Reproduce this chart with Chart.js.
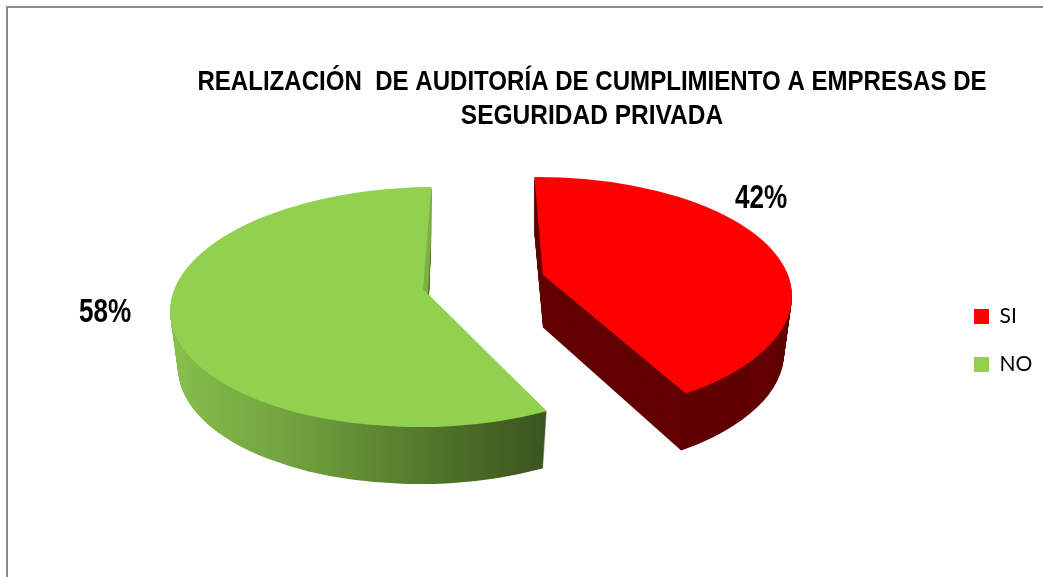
<!DOCTYPE html>
<html>
<head>
<meta charset="utf-8">
<style>html,body{margin:0;padding:0;background:#fff}#w{width:1043px;height:577px;position:relative}</style>
<script src="https://cdn.jsdelivr.net/npm/chart.js@4/dist/chart.umd.min.js"></script>
</head>
<body>
<div id="w"><canvas id="c" width="1043" height="577"></canvas></div>
<script>
const categories = ['SI', 'NO'];
const seriesValues = [42, 58];
const titleLines = ['REALIZACIÓN  DE AUDITORÍA DE CUMPLIMIENTO A EMPRESAS DE', 'SEGURIDAD PRIVADA'];
const sliceColors = ['#ff0000', '#92d050'];

const sliceLooks = [
  {cx: 535, cy: 297, rx: 257, ry: 120, tilt: -0.005, startShift: 0, endShift: -7, apexX: 543, apexY: 275, depth: 57, labelX: 761, labelY: 199},
  {cx: 427, cy: 307, rx: 257, ry: 120, tilt: -0.02, startShift: 1.5, endShift: 1.5, apexX: 427, apexY: 293, depth: 57, labelX: 105, labelY: 313}
];
const titleSquash = 0.875;
const labelSquash = 0.79;
const depthShrink = 8;
const rad = deg => deg * Math.PI / 180;

const pie3d = {
  id: 'pie3d',
  afterLayout(chart) {
    const lg = chart.legend, p = lg.options.labels.padding;
    lg.left = 974 - p; lg.right = 1043; lg.top = 306 - p; lg.bottom = 577;
    const t = chart.titleBlock;
    if (!t._wrapped) {
      const original = t.draw;
      t._wrapped = true;
      t.draw = function () {
        const ctx = chart.ctx, mid = (t.left + t.right) / 2;
        ctx.save();
        ctx.translate(mid, 0);
        ctx.scale(titleSquash, 1);
        ctx.translate(-mid, 0);
        original.call(t);
        ctx.restore();
      };
    }
  },
  beforeDraw(chart) {
    const ctx = chart.ctx;
    ctx.save();
    ctx.fillStyle = '#fff';
    ctx.fillRect(0, 0, chart.width, chart.height);
    ctx.strokeStyle = '#8c8c8c';
    ctx.lineWidth = 2;
    ctx.beginPath();
    ctx.moveTo(7, chart.height);
    ctx.lineTo(7, 7);
    ctx.lineTo(chart.width, 7);
    ctx.stroke();
    ctx.restore();
  },
  beforeDatasetsDraw(chart) {
    const ctx = chart.ctx;
    const arcs = chart.getDatasetMeta(0).data;
    const path = (a, s, d) => {
      const rx = s.rx - depthShrink * d / s.depth;
      ctx.beginPath();
      ctx.moveTo(s.apexX, s.apexY + d * 0.92);
      ctx.ellipse(s.cx, s.cy + d, rx, s.ry, s.tilt, a.startAngle + rad(s.startShift), a.endAngle + rad(s.endShift));
      ctx.closePath();
    };
    arcs.forEach((a, i) => {
      const s = sliceLooks[i];
      let wall = '#620000';
      if (i === 1) {
        wall = ctx.createLinearGradient(s.cx - s.rx, 0, s.cx + 122, 0);
        wall.addColorStop(0, '#86c04c');
        wall.addColorStop(0.35, '#6f9f3d');
        wall.addColorStop(0.7, '#507528');
        wall.addColorStop(1, '#3a5320');
      }
      ctx.save();
      ctx.fillStyle = wall;
      for (let d = s.depth; d >= 1; d--) { path(a, s, d); ctx.fill(); }
      path(a, s, 0);
      ctx.fillStyle = sliceColors[i];
      ctx.fill();
      if (i === 1) {
        const e = a.endAngle + rad(s.endShift);
        const ux = s.rx * Math.cos(e), uy = s.ry * Math.sin(e);
        const ex = s.cx + ux * Math.cos(s.tilt) - uy * Math.sin(s.tilt);
        const ey = s.cy + ux * Math.sin(s.tilt) + uy * Math.cos(s.tilt);
        ctx.beginPath();
        ctx.moveTo(ex, ey);
        ctx.lineTo(ex, ey + 45);
        ctx.lineTo(s.apexX + 1, s.apexY);
        ctx.lineTo(s.apexX - 4, s.apexY - 3);
        ctx.closePath();
        ctx.fillStyle = '#7fb045';
        ctx.fill();
      }
      ctx.font = 'bold 33px "Liberation Sans"';
      ctx.fillStyle = '#000';
      ctx.textAlign = 'center';
      ctx.textBaseline = 'middle';
      ctx.translate(s.labelX, s.labelY);
      ctx.scale(labelSquash, 1);
      ctx.fillText(seriesValues[i] + '%', 0, 0);
      ctx.restore();
    });
    return false;
  }
};

new Chart(document.getElementById('c'), {
  type: 'pie',
  data: {labels: categories, datasets: [{data: seriesValues, backgroundColor: sliceColors, borderWidth: 0}]},
  options: {
    responsive: false,
    animation: false,
    layout: {padding: {left: 141}},
    plugins: {
      tooltip: {enabled: false},
      title: {
        display: true,
        text: titleLines,
        color: '#000',
        font: {family: '"Liberation Sans"', size: 28, weight: 'bold', lineHeight: 1.214},
        padding: {top: 65, bottom: 10}
      },
      legend: {
        position: 'right',
        align: 'start',
        labels: {color: '#000', font: {family: 'Lato', size: 21}, boxWidth: 15, boxHeight: 15, padding: 27}
      }
    }
  },
  plugins: [pie3d]
});
</script>
</body>
</html>
